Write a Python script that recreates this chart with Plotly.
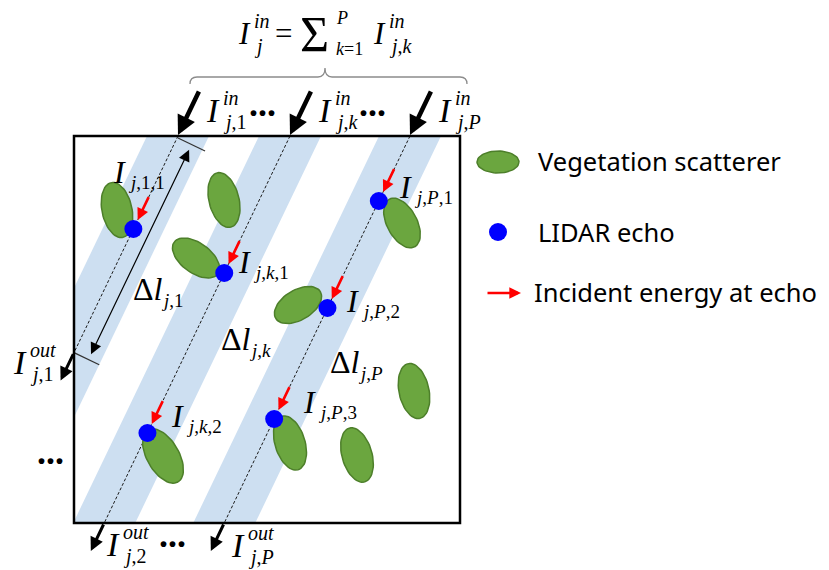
import math
import plotly.graph_objects as go

# ---------------- data ----------------
beam_names = ["1", "k", "P"]
beam_top_x = [178, 290, 410]          # entry point of each beam on the top of the canopy box
echo_beam = [0, 1, 1, 2, 2, 2]         # which beam each LIDAR echo lies on
echo_depth = [229, 273, 433, 201, 308, 419]
echo_labels = ["<i>j</i>,1,1", "<i>j</i>,<i>k</i>,1", "<i>j</i>,<i>k</i>,2",
               "<i>j</i>,<i>P</i>,1", "<i>j</i>,<i>P</i>,2", "<i>j</i>,<i>P</i>,3"]
scatter_cx = [117, 224, 196, 402, 298, 414, 357, 290, 163]
scatter_cy = [210, 200, 258, 223, 305, 391, 455, 443, 456]
scatter_a = [28, 28, 27, 27, 26, 28, 28, 28, 30]
scatter_b = [15, 15, 15, 15, 15, 15, 15, 15, 16]
scatter_angle = [78, 76, 36, 62, -31, 78, 74, 73, 60]
legend_labels = ["Vegetation scatterer", "LIDAR echo", "Incident energy at echo"]

# ---------------- geometry ----------------
W, H = 829, 570
BX0, BY0, BX1, BY1 = 74, 136, 460, 523
S = 0.48          # horizontal shift per unit depth of the beams
HW = 31           # half width of the beam strip
SERIF = "Liberation Serif"
SANS = "Noto Sans"
norm = math.hypot(S, 1)
ux, uy = -S / norm, 1 / norm       # beam direction (down-left)
px, py = 1 / norm, S / norm        # perpendicular (right-down)


def bx(i, y):
    return beam_top_x[i] - S * (y - BY0)


def clip_left(poly, xmin):
    out = []
    n = len(poly)
    for k in range(n):
        p, q = poly[k], poly[(k + 1) % n]
        pin, qin = p[0] >= xmin, q[0] >= xmin
        if pin:
            out.append(p)
        if pin != qin:
            t = (xmin - p[0]) / (q[0] - p[0])
            out.append((xmin, p[1] + t * (q[1] - p[1])))
    return out


def exit_point(i):
    xb = bx(i, BY1)
    if xb >= BX0:
        return xb, BY1
    return BX0, BY0 + (beam_top_x[i] - BX0) / S


fig = go.Figure()

# beam strips
for i, t in enumerate(beam_top_x):
    d = S * (BY1 - BY0)
    poly = [(t - HW, BY0), (t + HW, BY0), (t + HW - d, BY1), (t - HW - d, BY1)]
    poly = clip_left(poly, BX0)
    xs = [p[0] for p in poly] + [poly[0][0]]
    ys = [p[1] for p in poly] + [poly[0][1]]
    fig.add_trace(go.Scatter(x=xs, y=ys, mode="lines", fill="toself", fillcolor="#CDDFF1",
                             line=dict(width=0), hoverinfo="skip", showlegend=False))

# dashed centre lines
for i, t in enumerate(beam_top_x):
    ex, ey = exit_point(i)
    fig.add_trace(go.Scatter(x=[t, ex], y=[BY0, ey], mode="lines",
                             line=dict(color="#1a1a1a", width=1, dash="3px,2px"),
                             hoverinfo="skip", showlegend=False))


def ellipse(cx, cy, a, b, ang, n=60):
    phi = math.radians(ang)
    xs, ys = [], []
    for k in range(n + 1):
        th = 2 * math.pi * k / n
        xs.append(cx + a * math.cos(th) * math.cos(phi) - b * math.sin(th) * math.sin(phi))
        ys.append(cy + a * math.cos(th) * math.sin(phi) + b * math.sin(th) * math.cos(phi))
    return xs, ys


GREEN, GREEN_EDGE = "#6BA63F", "#4D7F2A"
for cx, cy, a, b, ang in zip(scatter_cx, scatter_cy, scatter_a, scatter_b, scatter_angle):
    xs, ys = ellipse(cx, cy, a, b, ang)
    fig.add_trace(go.Scatter(x=xs, y=ys, mode="lines", fill="toself", fillcolor=GREEN,
                             line=dict(color=GREEN_EDGE, width=1.5), hoverinfo="skip", showlegend=False))
# legend ellipse
xs, ys = ellipse(498, 162, 21, 11, 0)
fig.add_trace(go.Scatter(x=xs, y=ys, mode="lines", fill="toself", fillcolor=GREEN,
                         line=dict(color=GREEN_EDGE, width=1.5), hoverinfo="skip", showlegend=False))

# echoes
echo_x = [bx(b, y) for b, y in zip(echo_beam, echo_depth)]
fig.add_trace(go.Scatter(x=echo_x + [498], y=echo_depth + [232], mode="markers",
                         marker=dict(color="#0000FF", size=18, line=dict(width=0)),
                         hoverinfo="skip", showlegend=False))

ann = []


def arrow(x0, y0, x1, y1, color, width, size, head=2, both=False):
    d = dict(x=x1, y=y1, ax=x0, ay=y0, xref="x", yref="y", axref="x", ayref="y",
             text="", showarrow=True, arrowhead=head, arrowsize=size, arrowwidth=width,
             arrowcolor=color, standoff=0, startstandoff=0)
    if both:
        d.update(arrowside="end+start", startarrowhead=head, startarrowsize=size)
    ann.append(d)


# red incident-energy arrows
for x, y in zip(echo_x, echo_depth):
    arrow(x - ux * 37, y - uy * 37, x - ux * 10, y - uy * 10, "#FF0000", 2.6, 0.9)
arrow(486, 293, 521, 293, "#FF0000", 2.6, 0.9)

# incoming black arrows
for t in beam_top_x:
    arrow(t - ux * 50, BY0 - 1 - uy * 50, t, BY0 - 1, "black", 4.5, 0.85)
# outgoing arrows
for i in range(len(beam_top_x)):
    ex, ey = exit_point(i)
    arrow(ex, ey, ex + ux * 31, ey + uy * 31, "black", 3, 0.9)

# delta-l dimension
t0x, t0y = beam_top_x[0], BY0
e0x, e0y = exit_point(0)
shapes = []
for (qx, qy), L in (((t0x, t0y + 2), 30), ((e0x, e0y), 28)):
    shapes.append(dict(type="line", xref="x", yref="y", x0=qx, y0=qy, x1=qx + px * L, y1=qy + py * L,
                       line=dict(color="#333333", width=1.3)))
arrow(t0x + px * 16 + ux * 6, t0y + py * 16 + uy * 6, e0x + px * 16 - ux * 6, e0y + py * 16 - uy * 6,
      "black", 1.2, 1.9, both=True)

# canopy box
shapes.append(dict(type="rect", xref="x", yref="y", x0=BX0, y0=BY0, x1=BX1, y1=BY1,
                   line=dict(color="black", width=2.5), fillcolor="rgba(0,0,0,0)"))
# brace
shapes.append(dict(type="path", xref="x", yref="y",
                   path="M190,84 Q190,77 197,77 L318,77 Q325,77 325,68 Q325,77 332,77 L460,77 Q467,77 467,84",
                   line=dict(color="#8c8c8c", width=1.3)))


def txt(x, y, s, size, family=SERIF, anchor="left"):
    ann.append(dict(x=x, y=y, xref="x", yref="y", text=s, showarrow=False, xanchor=anchor,
                    yanchor="middle", font=dict(family=family, size=size, color="black")))


def sym(x, y, base, sup=None, sub=None, size=34, ssize=20, dx=17, dsup=-12, dsub=12):
    txt(x, y, base, size)
    if sup:
        txt(x + dx, y + dsup, sup, ssize)
    if sub:
        txt(x + dx, y + dsub, sub, ssize)


# formula
sym(236, 33, "<i>I</i>", "<i>in</i>", "<i>j</i>", size=31, ssize=20, dx=16, dsup=-12, dsub=13)
txt(273, 33, "=", 31)
txt(298, 34, "Σ", 50)
txt(334, 18, "<i>P</i>", 18)
txt(334, 49, "<i>k</i>=1", 18)
sym(371, 33, "<i>I</i>", "<i>in</i>", "<i>j</i>,<i>k</i>", size=31, ssize=20, dx=16, dsup=-12, dsub=13)

# incoming labels
in_x = [204, 316, 436]
for xx, nm in zip(in_x, beam_names):
    sub = "<i>j</i>," + (nm if nm.isdigit() else "<i>%s</i>" % nm)
    sym(xx, 110, "<i>I</i>", "<i>in</i>", sub)
dots = "<b>...</b>"
txt(247, 104, dots, 36)
txt(357, 104, dots, 36)
txt(35, 452, dots, 36)
txt(157, 535, dots, 36)

# outgoing labels
sym(11, 362, "<i>I</i>", "<i>out</i>", "<i>j</i>,1")
sym(104, 544, "<i>I</i>", "<i>out</i>", "<i>j</i>,2")
sym(229, 545, "<i>I</i>", "<i>out</i>", "<i>j</i>,<i>P</i>")

# echo labels
echo_lab_pos = [(111, 172), (236, 262), (169, 416), (397, 187), (344, 301), (301, 402)]
for (xx, yy), lab in zip(echo_lab_pos, echo_labels):
    txt(xx, yy, "<i>I</i>", 32)
    txt(xx + 15, yy + 10, lab, 19)

# delta-l labels
dl_pos = [(131, 289), (219, 339), (328, 362)]
for (xx, yy), nm in zip(dl_pos, beam_names):
    sub = "<i>j</i>," + (nm if nm.isdigit() else "<i>%s</i>" % nm)
    txt(xx, yy, "Δ<i>l</i>", 32)
    txt(xx + 28, yy + 11, sub, 19)

# legend text
for yy, lab in zip([161, 232, 292], legend_labels):
    txt(536 if yy != 292 else 532, yy, lab, 25.5, family=SANS)

fig.update_layout(
    width=W, height=H, margin=dict(l=0, r=0, t=0, b=0), autosize=False,
    paper_bgcolor="white", plot_bgcolor="white",
    xaxis=dict(range=[0, W], visible=False, fixedrange=True),
    yaxis=dict(range=[H, 0], visible=False, fixedrange=True),
    shapes=shapes, annotations=ann, showlegend=False,
)
fig.write_html("out.html", config={"displayModeBar": False},
               post_script="document.body.style.margin='0';document.body.style.overflow='hidden';")
